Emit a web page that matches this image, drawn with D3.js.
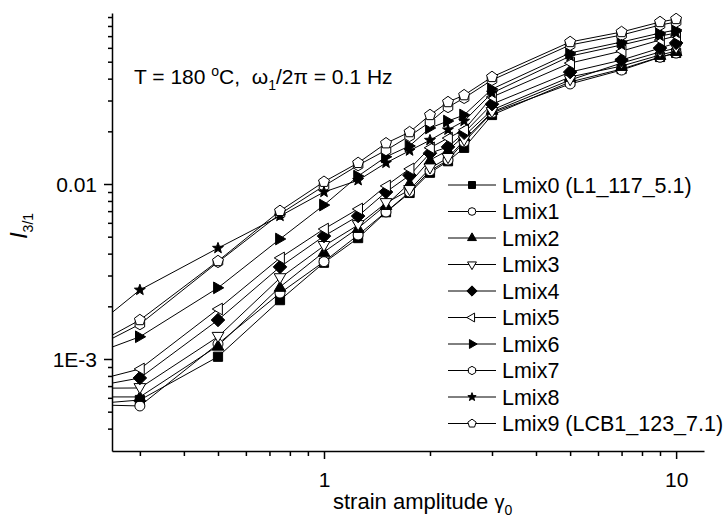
<!DOCTYPE html>
<html>
<head>
<meta charset="utf-8">
<script src="https://cdn.jsdelivr.net/npm/d3@7"></script>
<style>
  body { margin: 0; background: #fff; }
  text { font-family: "Liberation Sans", Arial, sans-serif; fill: #000; }
</style>
</head>
<body>
<svg id="chart"></svg>
<script>
const width = 727;
const height = 519;

// strain amplitude values (first point lies left of the visible axis)
const strain = [0.2, 0.3, 0.5, 0.75, 1, 1.25, 1.5, 1.75, 2, 2.25, 2.5, 3, 5, 7, 9, 10];

const lmix0 = [5.45e-4, 5.83e-4, 1.03e-3, 2.17e-3, 3.55e-3, 4.91e-3, 6.9e-3, 8.89e-3, 1.16e-2, 1.35e-2, 1.61e-2, 2.48e-2, 3.83e-2, 4.54e-2, 5.32e-2, 5.61e-2];
const lmix1 = [5.5e-4, 5.39e-4, 1.22e-3, 2.38e-3, 3.6e-3, 5.11e-3, 6.92e-3, 9.0e-3, 1.19e-2, 1.37e-2, 1.74e-2, 2.55e-2, 3.73e-2, 4.48e-2, 5.3e-2, 5.6e-2];
const lmix2 = [6.07e-4, 6.07e-4, 1.19e-3, 2.58e-3, 4.09e-3, 5.6e-3, 7.58e-3, 1.01e-2, 1.37e-2, 1.56e-2, 1.88e-2, 2.65e-2, 4.09e-2, 4.72e-2, 5.46e-2, 5.75e-2];
const lmix3 = [6.8e-4, 6.83e-4, 1.34e-3, 2.9e-3, 4.43e-3, 5.83e-3, 7.79e-3, 9.25e-3, 1.23e-2, 1.41e-2, 1.78e-2, 2.58e-2, 3.93e-2, 4.91e-2, 5.68e-2, 5.98e-2];
const lmix4 = [6.7e-4, 7.79e-4, 1.67e-3, 3.36e-3, 5.04e-3, 6.56e-3, 9.0e-3, 1.12e-2, 1.5e-2, 1.63e-2, 1.96e-2, 2.86e-2, 4.36e-2, 5.11e-2, 5.98e-2, 6.4e-2];
const lmix5 = [7.1e-4, 8.77e-4, 1.93e-3, 3.78e-3, 5.53e-3, 7.2e-3, 9.75e-3, 1.22e-2, 1.61e-2, 1.83e-2, 2.04e-2, 3.14e-2, 4.91e-2, 5.75e-2, 6.65e-2, 7.01e-2];
const lmix6 = [9.9e-4, 1.34e-3, 2.55e-3, 4.85e-3, 7.58e-3, 1.11e-2, 1.43e-2, 1.65e-2, 2.09e-2, 2.29e-2, 2.48e-2, 3.49e-2, 5.61e-2, 6.48e-2, 7.29e-2, 7.59e-2];
const lmix7 = [1.04e-3, 1.58e-3, 3.58e-3, 6.74e-3, 9.75e-3, 1.28e-2, 1.56e-2, 1.88e-2, 2.26e-2, 2.75e-2, 3.1e-2, 3.93e-2, 6.23e-2, 7.1e-2, 8.1e-2, 8.43e-2];
const lmix8 = [1.28e-3, 2.48e-3, 4.3e-3, 6.56e-3, 9.0e-3, 1.05e-2, 1.32e-2, 1.55e-2, 1.78e-2, 2.04e-2, 2.29e-2, 3.31e-2, 5.38e-2, 6.23e-2, 7.01e-2, 7.29e-2];
const lmix9 = [1.07e-3, 1.67e-3, 3.63e-3, 7.02e-3, 1.03e-2, 1.32e-2, 1.71e-2, 1.98e-2, 2.48e-2, 2.94e-2, 3.22e-2, 4.09e-2, 6.48e-2, 7.39e-2, 8.43e-2, 8.77e-2];

const seriesNames = ['Lmix0 (L1_117_5.1)', 'Lmix1', 'Lmix2', 'Lmix3', 'Lmix4', 'Lmix5', 'Lmix6', 'Lmix7', 'Lmix8', 'Lmix9 (LCB1_123_7.1)'];
const seriesValues = [lmix0, lmix1, lmix2, lmix3, lmix4, lmix5, lmix6, lmix7, lmix8, lmix9];
const seriesShapes = ['square', 'circle', 'triUp', 'triDown', 'diamond', 'triLeft', 'triRight', 'hexagon', 'star', 'pentagon'];
const seriesFilled = [true, false, true, false, true, false, true, false, true, false];

const xMajor = [1, 10];
const xMinor = [0.3, 0.4, 0.5, 0.6, 0.7, 0.8, 0.9, 2, 3, 4, 5, 6, 7, 8, 9];
const yMajor = [1e-3, 1e-2];
const yMajorLabels = ['1E-3', '0.01'];
const yMinor = [4e-4, 5e-4, 6e-4, 7e-4, 8e-4, 9e-4, 2e-3, 3e-3, 4e-3, 5e-3, 6e-3, 7e-3, 8e-3, 9e-3, 2e-2, 3e-2, 4e-2, 5e-2, 6e-2, 7e-2, 8e-2, 9e-2];

const plotLeft = 112, plotRight = 704, plotTop = 13, plotBottom = 451;

const xScale = d3.scaleLog().domain([0.25, 12]).range([plotLeft, plotRight]);
const yScale = d3.scaleLog().domain([2.98e-4, 0.0949]).range([plotBottom, plotTop]);

// polygon-ish symbol types for d3.symbol; size is used as the radius
function polygon(n, rot) {
  return {
    draw(ctx, r) {
      for (let i = 0; i < n; i++) {
        const a = rot + i * 2 * Math.PI / n;
        const px = r * Math.sin(a), py = -r * Math.cos(a);
        if (i === 0) ctx.moveTo(px, py); else ctx.lineTo(px, py);
      }
      ctx.closePath();
    }
  };
}
const starType = {
  draw(ctx, r) {
    for (let i = 0; i < 10; i++) {
      const rr = i % 2 === 0 ? r * 1.15 : r * 0.48;
      const a = i * Math.PI / 5;
      const px = rr * Math.sin(a), py = -rr * Math.cos(a);
      if (i === 0) ctx.moveTo(px, py); else ctx.lineTo(px, py);
    }
    ctx.closePath();
  }
};
const circleType = { draw(ctx, r) { ctx.moveTo(r, 0); ctx.arc(0, 0, r, 0, 2 * Math.PI); } };
const shapeTypes = {
  square: { t: polygon(4, Math.PI / 4), k: 1.3 },
  circle: { t: circleType, k: 1.0 },
  triUp: { t: polygon(3, 0), k: 1.35, dy: 1 },
  triDown: { t: polygon(3, Math.PI), k: 1.35, dy: -1 },
  triLeft: { t: polygon(3, -Math.PI / 2), k: 1.35, dx: 1 },
  triRight: { t: polygon(3, Math.PI / 2), k: 1.35, dx: -1 },
  diamond: { t: polygon(4, 0), k: 1.35 },
  hexagon: { t: polygon(6, 0), k: 1.1 },
  star: { t: starType, k: 1.0 },
  pentagon: { t: polygon(5, 0), k: 1.15 }
};
function symbolPath(shape, r) {
  const s = shapeTypes[shape];
  return d3.symbol().type(s.t).size(r * s.k)();
}

const svg = d3.select('#chart')
  .attr('width', width)
  .attr('height', height);

svg.append('defs').append('clipPath')
  .attr('id', 'plot-clip')
  .append('rect')
  .attr('x', plotLeft).attr('y', plotTop)
  .attr('width', plotRight - plotLeft).attr('height', plotBottom - plotTop);

// axes
const xAxisMajor = d3.axisBottom(xScale).tickValues(xMajor).tickFormat(d3.format('d')).tickSize(8).tickSizeOuter(0);
const xAxisMinor = d3.axisBottom(xScale).tickValues(xMinor).tickFormat('').tickSize(5).tickSizeOuter(0);
const yAxisMajor = d3.axisLeft(yScale).tickValues(yMajor).tickFormat((d, i) => yMajorLabels[i]).tickSize(8).tickSizeOuter(0);
const yAxisMinor = d3.axisLeft(yScale).tickValues(yMinor).tickFormat('').tickSize(4).tickSizeOuter(0);

function styleAxis(g) {
  g.selectAll('path, line').attr('stroke', '#000').attr('stroke-width', 1.5);
  g.selectAll('text').style('font-size', '21px').style('font-family', '"Liberation Sans", Arial, sans-serif').attr('fill', '#000');
}

svg.append('g').attr('transform', 'translate(0,' + plotBottom + ')').call(xAxisMinor).call(styleAxis)
  .select('.domain').remove();
const gx = svg.append('g').attr('transform', 'translate(0,' + plotBottom + ')').call(xAxisMajor).call(styleAxis);
gx.selectAll('text').attr('dy', 0).attr('y', 36);

svg.append('g').attr('transform', 'translate(' + plotLeft + ',0)').call(yAxisMinor).call(styleAxis)
  .select('.domain').remove();
const gy = svg.append('g').attr('transform', 'translate(' + plotLeft + ',0)').call(yAxisMajor).call(styleAxis);
gy.selectAll('text').attr('x', -15).attr('dy', '0.36em');

// series
const line = d3.line()
  .x(d => xScale(d[0]))
  .y(d => yScale(d[1]));

const plot = svg.append('g').attr('clip-path', 'url(#plot-clip)');

seriesValues.forEach((vals, i) => {
  const pts = strain.map((s, j) => [s, vals[j]]);
  plot.append('path')
    .datum(pts)
    .attr('fill', 'none')
    .attr('stroke', '#000')
    .attr('stroke-width', 1)
    .attr('d', line);
});

seriesValues.forEach((vals, i) => {
  const pts = strain.map((s, j) => [s, vals[j]]);
  const s = shapeTypes[seriesShapes[i]];
  plot.selectAll(null)
    .data(pts)
    .enter()
    .append('path')
    .attr('transform', d => 'translate(' + (xScale(d[0]) + (s.dx || 0)) + ',' + (yScale(d[1]) + (s.dy || 0)) + ')')
    .attr('d', symbolPath(seriesShapes[i], 5))
    .attr('fill', seriesFilled[i] ? '#000' : '#fff')
    .attr('stroke', '#000')
    .attr('stroke-width', 1);
});

// legend
const legend = svg.append('g');
seriesNames.forEach((name, i) => {
  const y = 185 + i * 26.5;
  legend.append('line')
    .attr('x1', 448).attr('x2', 496)
    .attr('y1', y).attr('y2', y)
    .attr('stroke', '#000').attr('stroke-width', 1);
  legend.append('path')
    .attr('transform', 'translate(472,' + y + ')')
    .attr('d', symbolPath(seriesShapes[i], 3.8))
    .attr('fill', seriesFilled[i] ? '#000' : '#fff')
    .attr('stroke', '#000')
    .attr('stroke-width', 1);
  legend.append('text')
    .attr('x', 502)
    .attr('y', y)
    .attr('dy', '0.36em')
    .style('font-size', '21.5px')
    .text(name);
});

// annotation
const note = svg.append('text')
  .attr('x', 134)
  .attr('y', 84)
  .attr('xml:space', 'preserve')
  .style('font-size', '21px');
note.append('tspan').text('T = 180 ');
note.append('tspan').attr('dy', -8).style('font-size', '14px').text('o');
note.append('tspan').attr('dy', 8).text('C,  ω');
note.append('tspan').attr('dy', 6).style('font-size', '14px').text('1');
note.append('tspan').attr('dy', -6).text('/2π = 0.1 Hz');

// x axis title
const xt = svg.append('text')
  .attr('x', 333)
  .attr('y', 509)
  .style('font-size', '22px');
xt.append('tspan').text('strain amplitude ');
xt.append('tspan').style('font-size', '20px').text('γ');
xt.append('tspan').attr('dy', 6).style('font-size', '14px').text('0');

// y axis title
const yt = svg.append('text')
  .attr('transform', 'translate(27,226) rotate(-90)')
  .style('text-anchor', 'middle')
  .style('font-size', '24px');
yt.append('tspan').style('font-style', 'italic').text('I');
yt.append('tspan').attr('dy', 6).style('font-size', '14px').text('3/1');
</script>
</body>
</html>
